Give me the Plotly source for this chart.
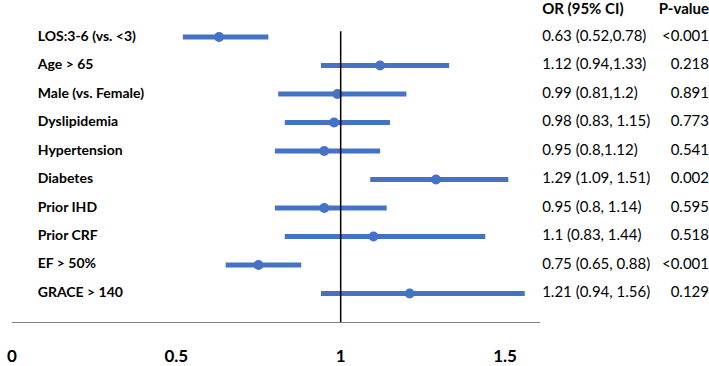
import plotly.graph_objects as go

labels = ["LOS:3-6 (vs. <3)", "Age > 65", "Male (vs. Female)", "Dyslipidemia", "Hypertension",
          "Diabetes", "Prior IHD", "Prior CRF", "EF > 50%", "GRACE > 140"]
or_vals = [0.63, 1.12, 0.99, 0.98, 0.95, 1.29, 0.95, 1.10, 0.75, 1.21]
ci_low = [0.52, 0.94, 0.81, 0.83, 0.80, 1.09, 0.80, 0.83, 0.65, 0.94]
ci_high = [0.78, 1.33, 1.20, 1.15, 1.12, 1.51, 1.14, 1.44, 0.88, 1.56]
or_text = ["0.63 (0.52,0.78)", "1.12 (0.94,1.33)", "0.99 (0.81,1.2)", "0.98 (0.83, 1.15)",
           "0.95 (0.8,1.12)", "1.29 (1.09, 1.51)", "0.95 (0.8, 1.14)", "1.1 (0.83, 1.44)",
           "0.75 (0.65, 0.88)", "1.21 (0.94, 1.56)"]
p_text = ["<0.001", "0.218", "0.891", "0.773", "0.541", "0.002", "0.595", "0.518", "<0.001", "0.129"]
headers = ["OR (95% CI)", "P-value"]
x_ticks = [0, 0.5, 1, 1.5]
x_ticklabels = ["0", "0.5", "1", "1.5"]

BLUE = "#4472C4"
FONT = "Lato"
W, H = 709, 366
n = len(labels)
rows = list(range(n))

fig = go.Figure()
for i in rows:
    fig.add_trace(go.Scatter(x=[ci_low[i], ci_high[i]], y=[i, i], mode="lines",
                             line=dict(color=BLUE, width=5), hoverinfo="skip", showlegend=False))
fig.add_trace(go.Scatter(x=or_vals, y=rows, mode="markers",
                         marker=dict(color=BLUE, size=10), showlegend=False))

fig.add_shape(type="line", xref="x", yref="y", x0=1, x1=1, y0=-0.2, y1=10,
              line=dict(color="black", width=1.5))

# text columns on a hidden pixel-scaled x axis
def text_col(xpix, ys, texts, pos, size):
    fig.add_trace(go.Scatter(x=[xpix] * len(ys), y=ys, mode="text", text=texts,
                             textposition=pos, xaxis="x2", yaxis="y", cliponaxis=False,
                             textfont=dict(family=FONT, size=size, color="black"),
                             hoverinfo="skip", showlegend=False))

text_col(33, rows, ["<b>%s</b>" % l for l in labels], "middle right", 14)
text_col(541, rows, or_text, "middle right", 15)
text_col(709, rows, p_text, "middle left", 15)
text_col(541, [-0.95], ["<b>%s</b>" % headers[0]], "middle right", 15)
text_col(709, [-0.95], ["<b>%s</b>" % headers[1]], "middle left", 15)

fig.update_layout(
    width=W, height=H, margin=dict(l=0, r=0, t=0, b=0),
    paper_bgcolor="rgba(0,0,0,0)", plot_bgcolor="rgba(0,0,0,0)",
    xaxis=dict(domain=[7 / W, 539 / W], range=[0, 1.607], tickvals=x_ticks,
               ticktext=["<b>%s</b>" % t for t in x_ticklabels],
               showgrid=False, zeroline=False, showline=True, linecolor="#808080", linewidth=1,
               ticks="outside", ticklen=19, tickcolor="rgba(0,0,0,0)",
               tickfont=dict(family=FONT, size=17, color="black")),
    xaxis2=dict(domain=[0, 1], range=[0, W], anchor="y", visible=False, fixedrange=True),
    yaxis=dict(domain=[35 / H, 1], range=[10, -1.301], showgrid=False, zeroline=False,
               showticklabels=False, showline=False),
)

fig.write_html("out.html", config={"displayModeBar": False})
with open("out.html", encoding="utf-8") as f:
    html = f.read()
html = html.replace("<body>", '<body style="margin:0;padding:0;overflow:hidden;background:white;">', 1)
with open("out.html", "w", encoding="utf-8") as f:
    f.write(html)
